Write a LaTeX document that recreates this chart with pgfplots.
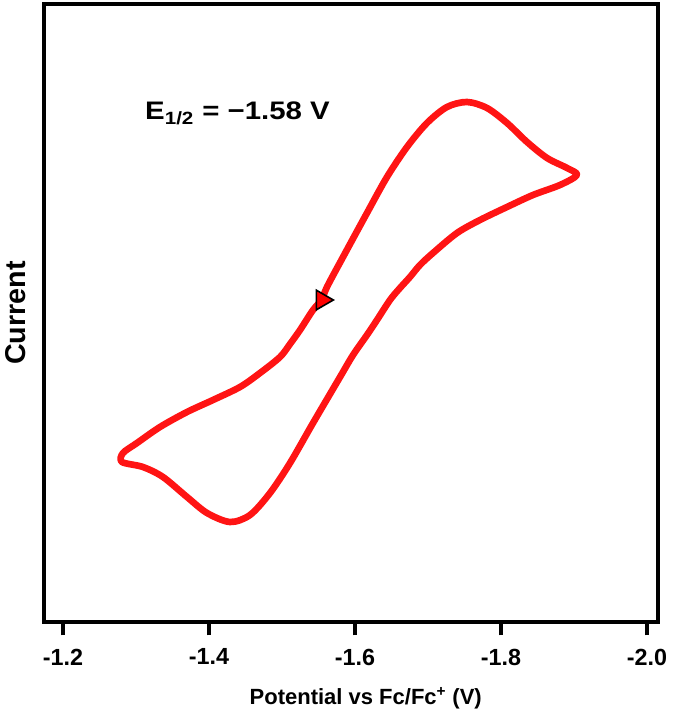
\documentclass[border=0pt]{standalone}
\usepackage{fontspec}
\setmainfont{Liberation Sans}
\usepackage{graphicx}
\usepackage{pgfplots}
\pgfplotsset{compat=1.18}

\definecolor{cvred}{RGB}{255,20,20}

\begin{document}
\begin{tikzpicture}
\begin{axis}[
    name=ax,
    scale only axis,
    width=460.5pt, height=463.5pt,
    x dir=reverse,
    xmin=-2.015, xmax=-1.174,
    ymin=0, ymax=6.18,
    axis line style={line width=2.4pt},
    xtick={-1.2,-1.4,-1.6,-1.8,-2.0},
    xticklabels={-1.2,-1.4,-1.6,-1.8,-2.0},
    ytick=\empty,
    xtick pos=bottom,
    tick align=outside,
    major tick length=10pt,
    tick style={line width=2.4pt, black},
    xticklabel style={font=\bfseries\fontsize{17.5}{17.5}\selectfont, yshift=-6.5pt},
    xlabel={Potential vs Fc/Fc\textsuperscript{+} (V)},
    xlabel style={font=\bfseries\fontsize{16.5}{16.5}\selectfont,
        at={(axis description cs:0.524,0)}, anchor=center, yshift=-57pt},
    ylabel={Current},
    ylabel style={font=\bfseries\fontsize{21.5}{21.5}\selectfont,
        at={(axis description cs:0,0.5)}, anchor=center, yshift=21pt},
]
% cyclic voltammogram (arbitrary current units)
\addplot[cvred, line width=5pt, line join=round, smooth] coordinates {
    (-1.5548,3.22) (-1.5616,3.35) (-1.5836,3.65) (-1.6164,4.09) (-1.6438,4.45)
    (-1.6712,4.75) (-1.6986,4.99) (-1.7260,5.15) (-1.7534,5.20) (-1.7808,5.14)
    (-1.8082,4.99) (-1.8356,4.80) (-1.8630,4.64) (-1.8904,4.54) (-1.9041,4.47)
    (-1.8808,4.37) (-1.8438,4.27) (-1.8082,4.15) (-1.7712,4.02) (-1.7397,3.89)
    (-1.7068,3.69) (-1.6890,3.57) (-1.6753,3.45) (-1.6616,3.34) (-1.6479,3.22)
    (-1.6301,3.02) (-1.6164,2.87) (-1.5973,2.67) (-1.5795,2.45)
    (-1.5425,1.99) (-1.5110,1.59) (-1.4836,1.29) (-1.4562,1.07) (-1.4288,1.00)
    (-1.3973,1.09) (-1.3699,1.25) (-1.3370,1.45) (-1.3096,1.55) (-1.2808,1.60)
    (-1.2822,1.69) (-1.3014,1.79) (-1.3329,1.95) (-1.3699,2.10) (-1.4055,2.22)
    (-1.4425,2.35) (-1.4699,2.49) (-1.4973,2.65) (-1.5110,2.78) (-1.5247,2.92)
    (-1.5425,3.12) (-1.5548,3.22)
};
% scan start marker
\addplot[only marks, mark=triangle*, mark size=8.5pt,
    mark options={rotate=-90, fill=red, draw=black, line width=1.2pt}] coordinates {
    (-1.5548,3.22)
};
\node[anchor=base west, inner sep=0pt, font=\bfseries\fontsize{19}{19}\selectfont]
    at (axis cs:-1.3123,5.027) {\scalebox{1.16}[1]{E\textsubscript{1/2} = −1.58 V}};
\end{axis}
\pgfresetboundingbox
\path[use as bounding box] ([xshift=-33pt,yshift=-72pt]ax.south west)
    rectangle ([xshift=10.5pt,yshift=3pt]ax.north east);
\end{tikzpicture}
\end{document}
